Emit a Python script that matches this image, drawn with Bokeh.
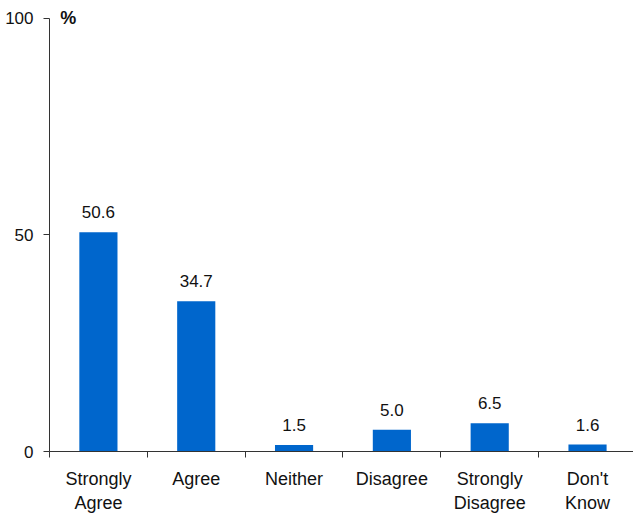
from bokeh.plotting import figure
from bokeh.models import Range1d, FixedTicker, Label, ColumnDataSource
from bokeh.core.properties import value as V
from bokeh.embed import file_html
from bokeh.resources import INLINE

categories = ["Strongly\nAgree", "Agree", "Neither", "Disagree", "Strongly\nDisagree", "Don't\nKnow"]
values = [50.6, 34.7, 1.5, 5.0, 6.5, 1.6]
value_labels = ["50.6", "34.7", "1.5", "5.0", "6.5", "1.6"]
y_ticks = [0, 50, 100]

FONT = "Liberation Sans"
BLUE = "#0066CC"
TXT = "#111111"

xs = [i + 0.5 for i in range(len(categories))]
src = ColumnDataSource(dict(x=xs, top=values, lab=value_labels))

p = figure(width=633, height=515, output_backend="svg", toolbar_location=None,
           x_range=Range1d(0, 5.97), y_range=Range1d(0, 103.44),
           min_border_left=49, min_border_right=0, min_border_top=3, min_border_bottom=61)
p.outline_line_color = None
p.grid.grid_line_color = None
p.background_fill_color = "white"
p.border_fill_color = "white"

p.vbar(x="x", top="top", bottom=0, width=0.39, source=src, color=BLUE, line_color=None)
p.text(x="x", y="top", text="lab", source=src, text_align="center", text_baseline="alphabetic",
       y_offset=-20, text_font=V(FONT), text_font_size="17px", text_color=TXT)

xa = p.xaxis[0]
xa.ticker = FixedTicker(ticks=xs, minor_ticks=list(range(len(categories) + 1)))
xa.major_label_overrides = {x: c for x, c in zip(xs, categories)}
xa.major_tick_line_color = None
xa.major_tick_out = 0
xa.major_tick_in = 0
xa.minor_tick_out = 6
xa.minor_tick_in = 0
xa.minor_tick_line_color = "#333333"
xa.axis_line_color = "#333333"
xa.major_label_standoff = 11
xa.major_label_text_font = FONT
xa.major_label_text_font_size = "18px"
xa.major_label_text_color = TXT

ya = p.yaxis[0]
ya.ticker = FixedTicker(ticks=y_ticks)
ya.bounds = (0, 100)
ya.minor_tick_line_color = None
ya.major_tick_out = 6
ya.major_tick_in = 0
ya.major_tick_line_color = "#333333"
ya.axis_line_color = "#333333"
ya.major_label_standoff = 10
ya.major_label_text_font = FONT
ya.major_label_text_font_size = "17px"
ya.major_label_text_color = TXT

p.add_layout(Label(x=0.11, y=100, text="%", text_baseline="middle", text_font=FONT,
                   text_font_size="18px", text_font_style="bold", text_color=TXT))

open("out.html", "w").write(file_html(p, INLINE))
